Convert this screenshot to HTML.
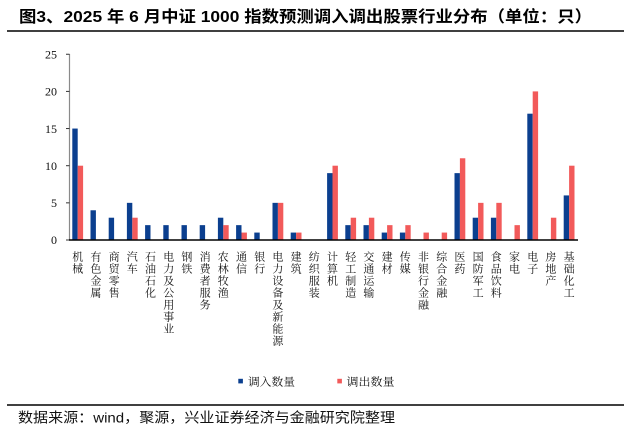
<!DOCTYPE html>
<html>
<head>
<meta charset="utf-8">
<style>
html,body{margin:0;padding:0;background:#fff;}
svg{display:block;}
.cat{font-family:"Noto Serif CJK SC","Liberation Serif",serif;font-size:11px;fill:#111;}
.tick{font-family:"Liberation Serif",serif;font-size:12px;fill:#111;}
</style>
</head>
<body>
<svg width="631" height="434" viewBox="0 0 631 434" xmlns="http://www.w3.org/2000/svg">
<rect width="631" height="434" fill="#fff"/>
<!-- title -->
<text x="19" y="22" font-family="'Liberation Sans','Noto Sans CJK SC',sans-serif" font-size="16" font-weight="bold" fill="#000" textLength="573" lengthAdjust="spacingAndGlyphs">图3、2025 年 6 月中证 1000 指数预测调入调出股票行业分布（单位：只）</text>
<line x1="7" y1="31" x2="624" y2="31" stroke="#000" stroke-width="1.5"/>

<!-- y axis -->
<line x1="69.5" y1="54" x2="69.5" y2="240" stroke="#8a8a8a" stroke-width="1.2"/>
<g stroke="#333" stroke-width="1">
<line x1="66" y1="240" x2="69.5" y2="240"/>
<line x1="66" y1="202.85" x2="69.5" y2="202.85"/>
<line x1="66" y1="165.7" x2="69.5" y2="165.7"/>
<line x1="66" y1="128.55" x2="69.5" y2="128.55"/>
<line x1="66" y1="91.4" x2="69.5" y2="91.4"/>
<line x1="66" y1="54.25" x2="69.5" y2="54.25"/>
</g>
<g class="tick" text-anchor="end">
<text x="57" y="244">0</text>
<text x="57" y="207">5</text>
<text x="57" y="170">10</text>
<text x="57" y="133">15</text>
<text x="57" y="95.5">20</text>
<text x="57" y="58.5">25</text>
</g>

<!-- bars -->
<g transform="translate(0,240) scale(1,-7.43)">
<g fill="#0b3f8f">
<rect x="72.3" y="0" width="5.4" height="15"/>
<rect x="90.5" y="0" width="5.4" height="4"/>
<rect x="108.7" y="0" width="5.4" height="3"/>
<rect x="126.9" y="0" width="5.4" height="5"/>
<rect x="145.1" y="0" width="5.4" height="2"/>
<rect x="163.3" y="0" width="5.4" height="2"/>
<rect x="181.5" y="0" width="5.4" height="2"/>
<rect x="199.7" y="0" width="5.4" height="2"/>
<rect x="217.9" y="0" width="5.4" height="3"/>
<rect x="236.1" y="0" width="5.4" height="2"/>
<rect x="254.3" y="0" width="5.4" height="1"/>
<rect x="272.5" y="0" width="5.4" height="5"/>
<rect x="290.7" y="0" width="5.4" height="1"/>
<rect x="327.1" y="0" width="5.4" height="9"/>
<rect x="345.3" y="0" width="5.4" height="2"/>
<rect x="363.5" y="0" width="5.4" height="2"/>
<rect x="381.7" y="0" width="5.4" height="1"/>
<rect x="399.9" y="0" width="5.4" height="1"/>
<rect x="454.5" y="0" width="5.4" height="9"/>
<rect x="472.7" y="0" width="5.4" height="3"/>
<rect x="490.9" y="0" width="5.4" height="3"/>
<rect x="527.3" y="0" width="5.4" height="17"/>
<rect x="563.7" y="0" width="5.4" height="6"/>
</g>
<g fill="#f25a5a">
<rect x="77.7" y="0" width="5.4" height="10"/>
<rect x="132.3" y="0" width="5.4" height="3"/>
<rect x="223.3" y="0" width="5.4" height="2"/>
<rect x="241.5" y="0" width="5.4" height="1"/>
<rect x="277.9" y="0" width="5.4" height="5"/>
<rect x="296.1" y="0" width="5.4" height="1"/>
<rect x="332.5" y="0" width="5.4" height="10"/>
<rect x="350.7" y="0" width="5.4" height="3"/>
<rect x="368.9" y="0" width="5.4" height="3"/>
<rect x="387.1" y="0" width="5.4" height="2"/>
<rect x="405.3" y="0" width="5.4" height="2"/>
<rect x="423.5" y="0" width="5.4" height="1"/>
<rect x="441.7" y="0" width="5.4" height="1"/>
<rect x="459.9" y="0" width="5.4" height="11"/>
<rect x="478.1" y="0" width="5.4" height="5"/>
<rect x="496.3" y="0" width="5.4" height="5"/>
<rect x="514.5" y="0" width="5.4" height="2"/>
<rect x="532.7" y="0" width="5.4" height="20"/>
<rect x="550.9" y="0" width="5.4" height="3"/>
<rect x="569.1" y="0" width="5.4" height="10"/>
</g>
</g>

<!-- x axis -->
<line x1="69" y1="240" x2="578" y2="240" stroke="#000" stroke-width="1.5"/>

<!-- category labels -->
<g class="cat" text-anchor="middle">
<text><tspan x="77.7" y="260.5">机</tspan><tspan x="77.7" dy="12">械</tspan></text>
<text><tspan x="95.9" y="260.5">有</tspan><tspan x="95.9" dy="12">色</tspan><tspan x="95.9" dy="12">金</tspan><tspan x="95.9" dy="12">属</tspan></text>
<text><tspan x="114.1" y="260.5">商</tspan><tspan x="114.1" dy="12">贸</tspan><tspan x="114.1" dy="12">零</tspan><tspan x="114.1" dy="12">售</tspan></text>
<text><tspan x="132.3" y="260.5">汽</tspan><tspan x="132.3" dy="12">车</tspan></text>
<text><tspan x="150.5" y="260.5">石</tspan><tspan x="150.5" dy="12">油</tspan><tspan x="150.5" dy="12">石</tspan><tspan x="150.5" dy="12">化</tspan></text>
<text><tspan x="168.7" y="260.5">电</tspan><tspan x="168.7" dy="12">力</tspan><tspan x="168.7" dy="12">及</tspan><tspan x="168.7" dy="12">公</tspan><tspan x="168.7" dy="12">用</tspan><tspan x="168.7" dy="12">事</tspan><tspan x="168.7" dy="12">业</tspan></text>
<text><tspan x="186.9" y="260.5">钢</tspan><tspan x="186.9" dy="12">铁</tspan></text>
<text><tspan x="205.1" y="260.5">消</tspan><tspan x="205.1" dy="12">费</tspan><tspan x="205.1" dy="12">者</tspan><tspan x="205.1" dy="12">服</tspan><tspan x="205.1" dy="12">务</tspan></text>
<text><tspan x="223.3" y="260.5">农</tspan><tspan x="223.3" dy="12">林</tspan><tspan x="223.3" dy="12">牧</tspan><tspan x="223.3" dy="12">渔</tspan></text>
<text><tspan x="241.5" y="260.5">通</tspan><tspan x="241.5" dy="12">信</tspan></text>
<text><tspan x="259.7" y="260.5">银</tspan><tspan x="259.7" dy="12">行</tspan></text>
<text><tspan x="277.9" y="260.5">电</tspan><tspan x="277.9" dy="12">力</tspan><tspan x="277.9" dy="12">设</tspan><tspan x="277.9" dy="12">备</tspan><tspan x="277.9" dy="12">及</tspan><tspan x="277.9" dy="12">新</tspan><tspan x="277.9" dy="12">能</tspan><tspan x="277.9" dy="12">源</tspan></text>
<text><tspan x="296.1" y="260.5">建</tspan><tspan x="296.1" dy="12">筑</tspan></text>
<text><tspan x="314.3" y="260.5">纺</tspan><tspan x="314.3" dy="12">织</tspan><tspan x="314.3" dy="12">服</tspan><tspan x="314.3" dy="12">装</tspan></text>
<text><tspan x="332.5" y="260.5">计</tspan><tspan x="332.5" dy="12">算</tspan><tspan x="332.5" dy="12">机</tspan></text>
<text><tspan x="350.7" y="260.5">轻</tspan><tspan x="350.7" dy="12">工</tspan><tspan x="350.7" dy="12">制</tspan><tspan x="350.7" dy="12">造</tspan></text>
<text><tspan x="368.9" y="260.5">交</tspan><tspan x="368.9" dy="12">通</tspan><tspan x="368.9" dy="12">运</tspan><tspan x="368.9" dy="12">输</tspan></text>
<text><tspan x="387.1" y="260.5">建</tspan><tspan x="387.1" dy="12">材</tspan></text>
<text><tspan x="405.3" y="260.5">传</tspan><tspan x="405.3" dy="12">媒</tspan></text>
<text><tspan x="423.5" y="260.5">非</tspan><tspan x="423.5" dy="12">银</tspan><tspan x="423.5" dy="12">行</tspan><tspan x="423.5" dy="12">金</tspan><tspan x="423.5" dy="12">融</tspan></text>
<text><tspan x="441.7" y="260.5">综</tspan><tspan x="441.7" dy="12">合</tspan><tspan x="441.7" dy="12">金</tspan><tspan x="441.7" dy="12">融</tspan></text>
<text><tspan x="459.9" y="260.5">医</tspan><tspan x="459.9" dy="12">药</tspan></text>
<text><tspan x="478.1" y="260.5">国</tspan><tspan x="478.1" dy="12">防</tspan><tspan x="478.1" dy="12">军</tspan><tspan x="478.1" dy="12">工</tspan></text>
<text><tspan x="496.3" y="260.5">食</tspan><tspan x="496.3" dy="12">品</tspan><tspan x="496.3" dy="12">饮</tspan><tspan x="496.3" dy="12">料</tspan></text>
<text><tspan x="514.5" y="260.5">家</tspan><tspan x="514.5" dy="12">电</tspan></text>
<text><tspan x="532.7" y="260.5">电</tspan><tspan x="532.7" dy="12">子</tspan></text>
<text><tspan x="550.9" y="260.5">房</tspan><tspan x="550.9" dy="12">地</tspan><tspan x="550.9" dy="12">产</tspan></text>
<text><tspan x="569.1" y="260.5">基</tspan><tspan x="569.1" dy="12">础</tspan><tspan x="569.1" dy="12">化</tspan><tspan x="569.1" dy="12">工</tspan></text>
</g>

<!-- legend -->
<rect x="238.3" y="378.8" width="4.6" height="4.6" fill="#0b3f8f"/>
<text x="248" y="385.5" class="cat" font-size="11.5" textLength="47" lengthAdjust="spacingAndGlyphs">调入数量</text>
<rect x="337.3" y="378.8" width="4.6" height="4.6" fill="#f25a5a"/>
<text x="346.5" y="385.5" class="cat" font-size="11.5" textLength="48" lengthAdjust="spacingAndGlyphs">调出数量</text>

<!-- bottom -->
<line x1="7" y1="405" x2="624" y2="405" stroke="#000" stroke-width="1.5"/>
<text x="18" y="422.5" font-family="'Liberation Sans','Noto Sans CJK SC',sans-serif" font-size="14" fill="#111" textLength="377" lengthAdjust="spacingAndGlyphs">数据来源：wind，聚源，兴业证券经济与金融研究院整理</text>
</svg>
</body>
</html>
